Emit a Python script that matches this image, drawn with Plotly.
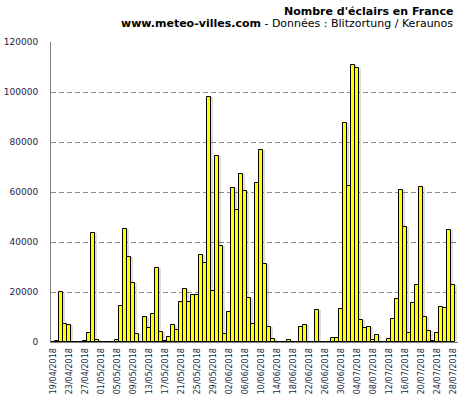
import datetime as dt
import plotly.graph_objects as go

start = dt.date(2018, 4, 19)
days = [(start + dt.timedelta(days=i)).strftime("%d/%m/%Y") for i in range(101)]

eclairs = [
    0, 300, 19900, 7400, 6700, 200, 200, 0, 300, 3800,
    43500, 1000, 100, 100, 100, 100, 700, 14400, 45100, 34100,
    23800, 3400, 100, 9900, 5800, 11400, 29800, 4200, 500, 2200,
    7000, 4800, 15900, 21400, 15900, 19000, 19000, 34700, 31500, 98200,
    20300, 74300, 38300, 3100, 11900, 61500, 52700, 67100, 60300, 17500,
    7100, 63500, 76700, 31100, 5900, 1100, 100, 100, 100, 700,
    100, 100, 5900, 6700, 100, 100, 12700, 100, 100, 100,
    1500, 1500, 13100, 87800, 62400, 111000, 109800, 8700, 5500, 5900,
    700, 2700, 200, 200, 1100, 9100, 17100, 60700, 45900, 3500,
    15500, 22700, 61900, 9900, 4300, 300, 3500, 13900, 13500, 44700,
    22700,
]

tick_labels = days[::4]
y_ticks = [0, 20000, 40000, 60000, 80000, 100000, 120000]

FONT = "Verdana, DejaVu Sans, sans-serif"
LABEL_COLOR = "#1e1e46"

fig = go.Figure()
# soft shadow behind bars
fig.add_trace(go.Bar(
    x=days, y=eclairs, width=1, offset=0.1,
    marker=dict(color="rgba(0,0,0,0.13)", line=dict(width=0)),
    hoverinfo="skip", showlegend=False,
))
fig.add_trace(go.Bar(
    x=days, y=eclairs, width=1, offset=-0.5,
    marker=dict(color="#ffff00", line=dict(color="#000000", width=1)),
    showlegend=False,
))

fig.update_layout(
    width=460, height=398,
    margin=dict(l=51, r=2, t=42, b=56, autoexpand=False),
    paper_bgcolor="white", plot_bgcolor="white",
    barmode="overlay", bargap=0,
    font=dict(family=FONT, size=9, color=LABEL_COLOR),
    showlegend=False,
)
fig.update_xaxes(
    type="category", range=[-0.5, 101.25], automargin=False,
    tickmode="array", tickvals=tick_labels, ticktext=tick_labels,
    tickangle=-90, tickfont=dict(size=8, color=LABEL_COLOR),
    showgrid=False, showline=True, linecolor="#808080", linewidth=1,
    ticks="outside", ticklen=2, tickcolor="rgba(0,0,0,0)",
)
fig.update_yaxes(
    range=[0, 120000], tickmode="array", tickvals=y_ticks, automargin=False,
    tickformat="d", tickfont=dict(size=9, color=LABEL_COLOR),
    showgrid=True, gridcolor="#8c8c8c", gridwidth=1, griddash="5px,3px",
    zeroline=False, showline=True, linecolor="#808080", linewidth=1,
    ticks="outside", ticklen=10, tickcolor="rgba(0,0,0,0)",
)

fig.add_annotation(
    xref="paper", yref="paper", x=1, y=1 + 30 / 300, xshift=-3,
    xanchor="right", yanchor="middle", showarrow=False,
    text="<b>Nombre d'éclairs en France</b>",
    font=dict(family=FONT, size=11, color="black"),
)
fig.add_annotation(
    xref="paper", yref="paper", x=1, y=1 + 18 / 300, xshift=-3,
    xanchor="right", yanchor="middle", showarrow=False,
    text="<b>www.meteo-villes.com</b> - Données : Blitzortung / Keraunos",
    font=dict(family=FONT, size=11, color="black"),
)

# remove the page's default 8px body margin so the figure fills the window
fig.write_html(
    "out.html",
    config={"displayModeBar": False},
    post_script="document.body.style.margin='0px';document.body.style.overflow='hidden';",
)
